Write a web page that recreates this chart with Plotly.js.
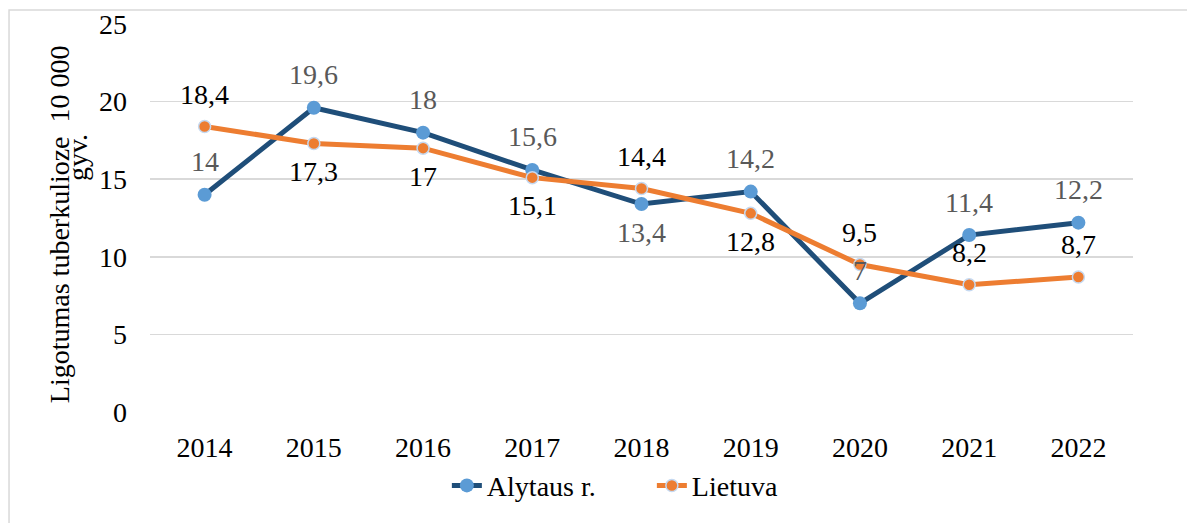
<!DOCTYPE html>
<html>
<head>
<meta charset="utf-8">
<script src="https://cdn.plot.ly/plotly-3.0.1.min.js"></script>
<style>html,body{margin:0;padding:0;background:#fff;}#chart{width:1187px;height:523px;}</style>
</head>
<body>
<div id="chart"></div>
<script>
const years = ['2014','2015','2016','2017','2018','2019','2020','2021','2022'];
const alytaus = [14, 19.6, 18, 15.6, 13.4, 14.2, 7, 11.4, 12.2];
const lietuva = [18.4, 17.3, 17, 15.1, 14.4, 12.8, 9.5, 8.2, 8.7];
const alytausLabels = ['14','19,6','18','15,6','13,4','14,2','7','11,4','12,2'];
const lietuvaLabels = ['18,4','17,3','17','15,1','14,4','12,8','9,5','8,2','8,7'];
const alytausAbove = [true, true, true, true, false, true, true, true, true];
const lietuvaAbove = [true, false, false, false, true, false, true, true, true];
const yTicks = [0, 5, 10, 15, 20, 25];
const yTitleLine1 = 'Ligotumas tuberkulioze  10 000';
const yTitleLine2 = 'gyv.';

const FONT = 'Liberation Serif, Times New Roman, serif';

const traces = [
  {
    x: years, y: alytaus, name: 'Alytaus r.', type: 'scatter', mode: 'lines+markers',
    line: {color: '#1F4E79', width: 5},
    marker: {color: '#5B9BD5', size: 14, line: {width: 0}},
    hoverinfo: 'skip'
  },
  {
    x: years, y: lietuva, name: 'Lietuva', type: 'scatter', mode: 'lines+markers',
    line: {color: '#ED7D31', width: 5},
    marker: {color: '#ED7D31', size: 12, line: {width: 1.5, color: '#C5D9F1'}},
    hoverinfo: 'skip'
  }
];

const annotations = [];
years.forEach((yr, i) => {
  annotations.push({
    x: i, y: alytaus[i], xref: 'x', yref: 'y', text: alytausLabels[i], showarrow: false,
    yshift: alytausAbove[i] ? 33 : -28,
    font: {family: FONT, size: 28, color: '#595959'}
  });
  annotations.push({
    x: i, y: lietuva[i], xref: 'x', yref: 'y', text: lietuvaLabels[i], showarrow: false,
    yshift: lietuvaAbove[i] ? 32 : -28,
    font: {family: FONT, size: 28, color: '#000000'}
  });
});
annotations.push({
  xref: 'paper', yref: 'paper', x: -0.092, y: 0.483, xanchor: 'center', yanchor: 'middle',
  text: yTitleLine1, textangle: -90, showarrow: false,
  font: {family: FONT, size: 28, color: '#000000'}
});
annotations.push({
  xref: 'paper', yref: 'paper', x: -0.073, y: 0.655, xanchor: 'center', yanchor: 'middle',
  text: yTitleLine2, textangle: -90, showarrow: false,
  font: {family: FONT, size: 28, color: '#000000'}
});

const layout = {
  width: 1187, height: 523,
  margin: {l: 150, r: 54, t: 24, b: 108},
  paper_bgcolor: '#ffffff', plot_bgcolor: '#ffffff',
  font: {family: FONT, size: 28, color: '#000000'},
  showlegend: true,
  legend: {
    orientation: 'h', x: 0.302, xanchor: 'left', y: -0.19, yanchor: 'middle',
    entrywidth: 160,
    font: {family: FONT, size: 28, color: '#000000'}, itemclick: false
  },
  xaxis: {
    type: 'category', range: [-0.5, 8.5], showgrid: false, zeroline: false, showline: false,
    ticks: '', ticklabelstandoff: 16,
    tickfont: {family: FONT, size: 28, color: '#000000'}
  },
  yaxis: {
    range: [0, 25], tickvals: yTicks, ticktext: yTicks.map(String),
    showgrid: true, gridcolor: '#D9D9D9', gridwidth: 1.5,
    zeroline: false, showline: false, ticks: '', ticklabelstandoff: 22,
    tickfont: {family: FONT, size: 28, color: '#000000'}
  },
  annotations: annotations,
  shapes: [{
    type: 'rect', xref: 'paper', yref: 'paper',
    x0: -0.1434, x1: 1.06, y0: -0.3, y1: 1.0358,
    line: {color: '#D9D9D9', width: 1.5}, fillcolor: 'rgba(0,0,0,0)', layer: 'below'
  }]
};

Plotly.newPlot('chart', traces, layout, {displayModeBar: false, staticPlot: true});
</script>
</body>
</html>
